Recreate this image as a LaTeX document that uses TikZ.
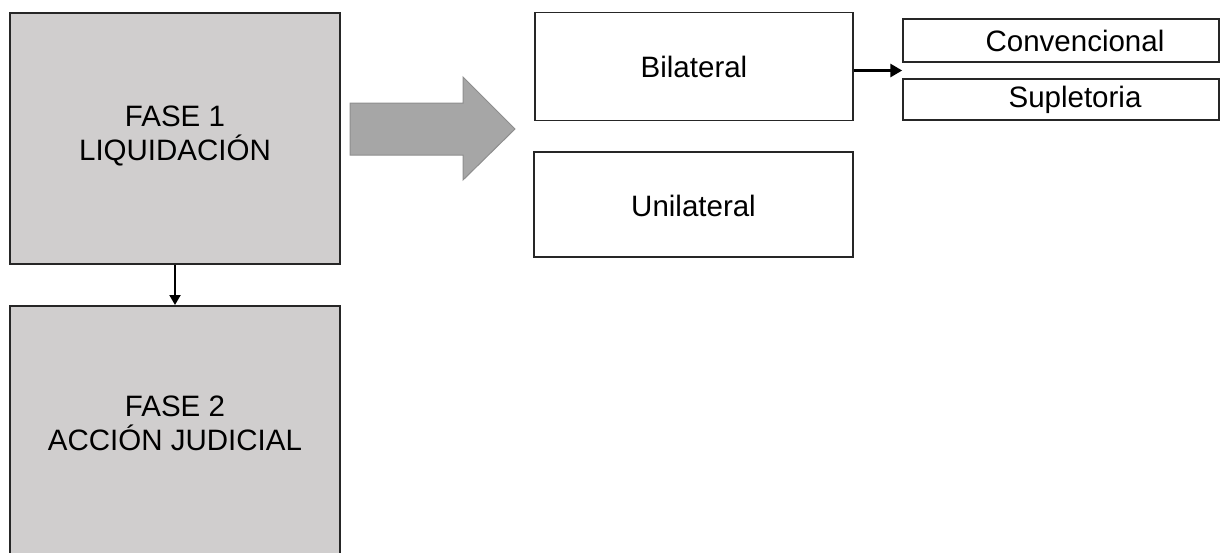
\documentclass[tikz,border=0pt]{standalone}
\usepackage{fontspec}
\setmainfont{Liberation Sans}
\usetikzlibrary{arrows.meta,calc}
\definecolor{phase}{HTML}{D0CECE}
\definecolor{bigarrow}{HTML}{A6A6A6}
\definecolor{bigarrowline}{HTML}{8E8E8E}
\tikzset{
  phasebox/.style={draw=black!85, line width=2pt, fill=phase, inner sep=0pt},
  optbox/.style={draw=black!85, line width=1.5pt, fill=white, inner sep=0pt},
  txt/.style={font=\fontsize{29.5}{34}\selectfont, align=center, text=black},
  conn/.style={line width=2pt, -{Triangle[length=10pt,width=11pt]}},
  connthick/.style={line width=3pt, -{Triangle[length=12pt,width=13pt]}}
}
\begin{document}
\begin{tikzpicture}[x=1pt,y=-1pt]
\useasboundingbox (0,0) rectangle (1222,552);
\clip (0,0) rectangle (1222,552);
% phase boxes
\node[phasebox, minimum width=330pt, minimum height=251pt] (f1) at (175,138.5) {};
\node[txt] (f1t) at (175,136) {FASE 1\\LIQUIDACIÓN};
\node[phasebox, minimum width=330pt, minimum height=260pt] (f2) at (175,436) {};
\node[txt] (f2t) at (175,423) {FASE 2\\ACCIÓN JUDICIAL};
\draw[conn] (f1.south) -- (f2.north);
% big arrow
\draw[bigarrowline, line width=1pt, fill=bigarrow]
  (350,103) -- (463,103) -- (463,77) -- (515,129) -- (463,180) -- (463,155) -- (350,155) -- cycle;
% option boxes
\node[optbox, minimum width=318pt, minimum height=108pt] (bil) at (694,66.5) {};
\node[txt] (bilt) at (694,66.5) {Bilateral};
\node[optbox, minimum width=319pt, minimum height=105pt] (uni) at (693.5,204.5) {};
\node[txt] (unit) at (693.5,206) {Unilateral};
\node[optbox, minimum width=316pt, minimum height=43pt] (conv) at (1061,40.5) {};
\node[txt] (convt) at (1075,40.5) {Convencional};
\node[optbox, minimum width=316pt, minimum height=41pt] (sup) at (1061,99.5) {};
\node[txt] (supt) at (1075,99.5) {Supletoria};
\coordinate (mid) at ($(conv.south west)!0.5!(sup.north west)$);
\draw[connthick] (bil.east |- mid) -- (mid);
\end{tikzpicture}
\end{document}
